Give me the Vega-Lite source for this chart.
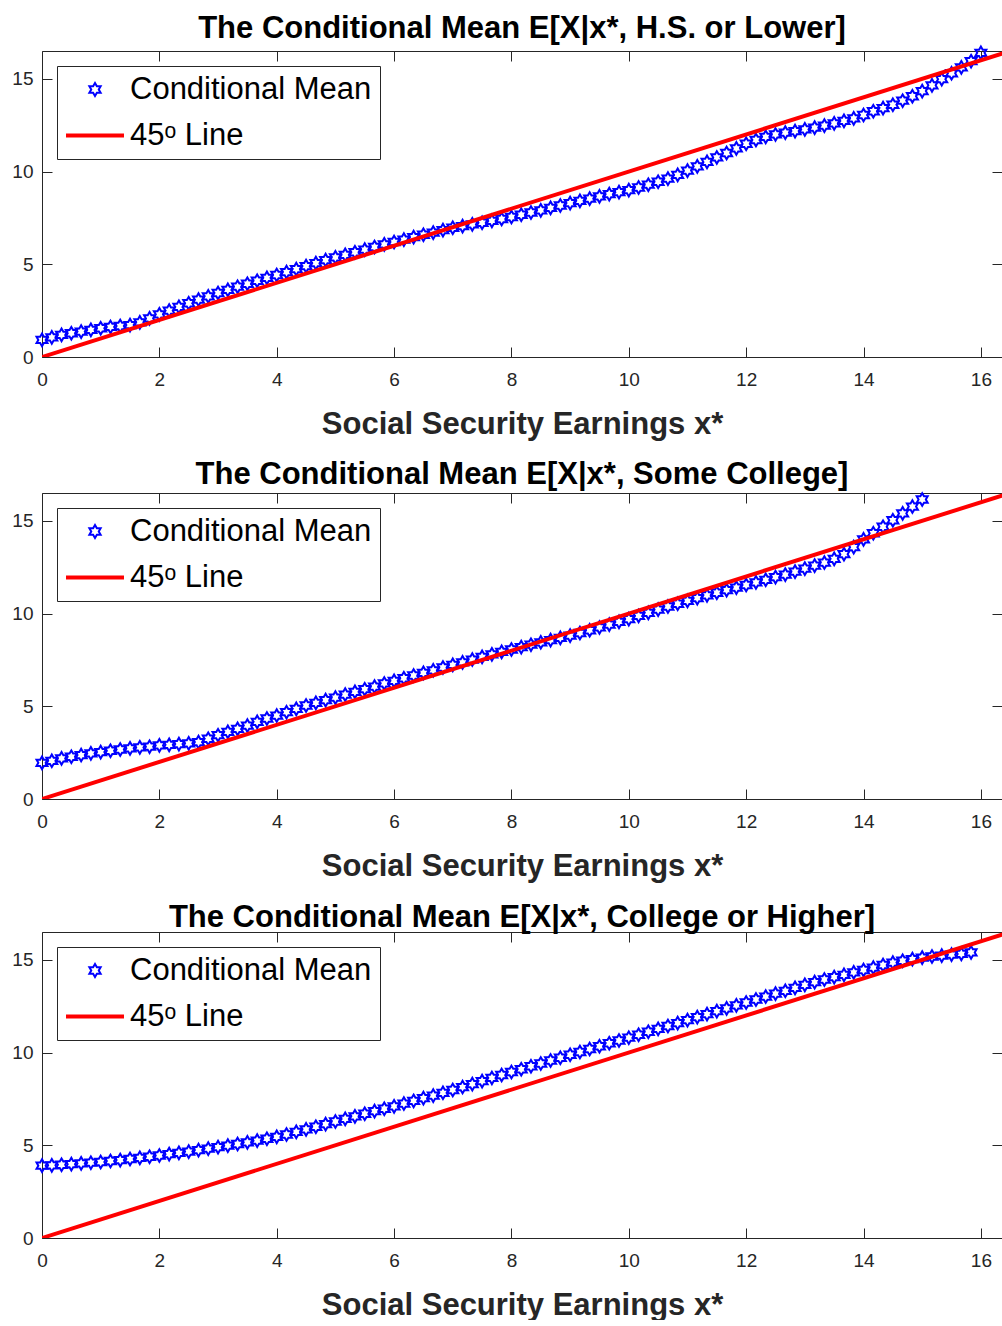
{
  "$schema": "https://vega.github.io/schema/vega-lite/v6.json",
  "background": "white",
  "padding": {"left": 11, "top": 12, "right": 0, "bottom": 0},
  "spacing": 20,
  "config": {
    "view": {"stroke": null},
    "font": "Liberation Sans",
    "title": {"fontSize": 31, "font": "Liberation Sans", "fontWeight": "bold", "color": "black", "anchor": "middle", "baseline": "alphabetic", "offset": -2},
    "axis": {"labelFont": "Liberation Sans", "labelFontSize": 19, "labelColor": "#262626", "tickColor": "#262626", "domainColor": "#262626", "tickSize": -10, "grid": false, "labelFlush": false, "labelOverlap": false, "titleFont": "Liberation Sans", "titleFontSize": 31, "titleFontWeight": "bold", "titleColor": "#262626"},
    "legend": {"orient": "top-left", "offset": 15, "padding": 8, "strokeColor": "#262626", "fillColor": "white", "labelFontSize": 31, "labelFont": "Liberation Sans", "labelColor": "black", "labelLimit": 600, "symbolSize": 169, "rowPadding": 14, "labelOffset": 19.5, "symbolOffset": 14.5, "cornerRadius": 0, "symbolFillColor": "transparent"}
  },
  "resolve": {"scale": {"color": "independent", "shape": "independent", "strokeWidth": "independent"}, "legend": {"color": "independent", "shape": "independent", "strokeWidth": "independent"}},
  "datasets": {
    "diag": [{"x": 0, "y": 0}, {"x": 16.5, "y": 16.5}],
    "hs": [
      {"x":0,"y":0.92},{"x":0.167,"y":1.06},{"x":0.333,"y":1.19},{"x":0.5,"y":1.28},{"x":0.667,"y":1.37},{"x":0.833,"y":1.46},
      {"x":1,"y":1.55},{"x":1.167,"y":1.62},{"x":1.333,"y":1.67},{"x":1.5,"y":1.72},{"x":1.667,"y":1.87},{"x":1.833,"y":2.08},
      {"x":2,"y":2.30},{"x":2.167,"y":2.50},{"x":2.333,"y":2.70},{"x":2.5,"y":2.90},{"x":2.667,"y":3.09},{"x":2.833,"y":3.27},
      {"x":3,"y":3.45},{"x":3.167,"y":3.62},{"x":3.333,"y":3.79},{"x":3.5,"y":3.95},{"x":3.667,"y":4.11},{"x":3.833,"y":4.27},
      {"x":4,"y":4.42},{"x":4.167,"y":4.58},{"x":4.333,"y":4.74},{"x":4.5,"y":4.90},{"x":4.667,"y":5.06},{"x":4.833,"y":5.22},
      {"x":5,"y":5.37},{"x":5.167,"y":5.51},{"x":5.333,"y":5.65},{"x":5.5,"y":5.79},{"x":5.667,"y":5.93},{"x":5.833,"y":6.07},
      {"x":6,"y":6.20},{"x":6.167,"y":6.33},{"x":6.333,"y":6.46},{"x":6.5,"y":6.59},{"x":6.667,"y":6.71},{"x":6.833,"y":6.84},
      {"x":7,"y":6.97},{"x":7.167,"y":7.06},{"x":7.333,"y":7.15},{"x":7.5,"y":7.24},{"x":7.667,"y":7.34},{"x":7.833,"y":7.44},
      {"x":8,"y":7.55},{"x":8.167,"y":7.67},{"x":8.333,"y":7.79},{"x":8.5,"y":7.91},{"x":8.667,"y":8.04},{"x":8.833,"y":8.17},
      {"x":9,"y":8.30},{"x":9.167,"y":8.42},{"x":9.333,"y":8.54},{"x":9.5,"y":8.66},{"x":9.667,"y":8.78},{"x":9.833,"y":8.89},
      {"x":10,"y":9.00},{"x":10.167,"y":9.14},{"x":10.333,"y":9.29},{"x":10.5,"y":9.45},{"x":10.667,"y":9.62},{"x":10.833,"y":9.82},
      {"x":11,"y":10.05},{"x":11.167,"y":10.28},{"x":11.333,"y":10.52},{"x":11.5,"y":10.76},{"x":11.667,"y":11.00},{"x":11.833,"y":11.25},
      {"x":12,"y":11.50},{"x":12.167,"y":11.70},{"x":12.333,"y":11.87},{"x":12.5,"y":12.00},{"x":12.667,"y":12.10},{"x":12.833,"y":12.18},
      {"x":13,"y":12.27},{"x":13.167,"y":12.37},{"x":13.333,"y":12.48},{"x":13.5,"y":12.60},{"x":13.667,"y":12.73},{"x":13.833,"y":12.87},
      {"x":14,"y":13.05},{"x":14.167,"y":13.25},{"x":14.333,"y":13.42},{"x":14.5,"y":13.60},{"x":14.667,"y":13.82},{"x":14.833,"y":14.06},
      {"x":15,"y":14.34},{"x":15.167,"y":14.65},{"x":15.333,"y":14.98},{"x":15.5,"y":15.30},{"x":15.667,"y":15.62},{"x":15.833,"y":15.95},
      {"x":16,"y":16.40}
    ],
    "sc": [
      {"x":0,"y":1.95},{"x":0.167,"y":2.06},{"x":0.333,"y":2.19},{"x":0.5,"y":2.28},{"x":0.667,"y":2.37},{"x":0.833,"y":2.46},
      {"x":1,"y":2.53},{"x":1.167,"y":2.60},{"x":1.333,"y":2.67},{"x":1.5,"y":2.73},{"x":1.667,"y":2.78},{"x":1.833,"y":2.82},
      {"x":2,"y":2.89},{"x":2.167,"y":2.92},{"x":2.333,"y":2.96},{"x":2.5,"y":3.00},{"x":2.667,"y":3.07},{"x":2.833,"y":3.25},
      {"x":3,"y":3.44},{"x":3.167,"y":3.62},{"x":3.333,"y":3.78},{"x":3.5,"y":3.96},{"x":3.667,"y":4.16},{"x":3.833,"y":4.34},
      {"x":4,"y":4.50},{"x":4.167,"y":4.68},{"x":4.333,"y":4.86},{"x":4.5,"y":5.04},{"x":4.667,"y":5.18},{"x":4.833,"y":5.33},
      {"x":5,"y":5.47},{"x":5.167,"y":5.63},{"x":5.333,"y":5.78},{"x":5.5,"y":5.92},{"x":5.667,"y":6.06},{"x":5.833,"y":6.23},
      {"x":6,"y":6.37},{"x":6.167,"y":6.51},{"x":6.333,"y":6.66},{"x":6.5,"y":6.80},{"x":6.667,"y":6.94},{"x":6.833,"y":7.09},
      {"x":7,"y":7.23},{"x":7.167,"y":7.37},{"x":7.333,"y":7.52},{"x":7.5,"y":7.66},{"x":7.667,"y":7.80},{"x":7.833,"y":7.93},
      {"x":8,"y":8.06},{"x":8.167,"y":8.19},{"x":8.333,"y":8.32},{"x":8.5,"y":8.45},{"x":8.667,"y":8.57},{"x":8.833,"y":8.69},
      {"x":9,"y":8.81},{"x":9.167,"y":8.95},{"x":9.333,"y":9.10},{"x":9.5,"y":9.25},{"x":9.667,"y":9.40},{"x":9.833,"y":9.55},
      {"x":10,"y":9.70},{"x":10.167,"y":9.87},{"x":10.333,"y":10.04},{"x":10.5,"y":10.21},{"x":10.667,"y":10.38},{"x":10.833,"y":10.53},
      {"x":11,"y":10.68},{"x":11.167,"y":10.83},{"x":11.333,"y":10.98},{"x":11.5,"y":11.12},{"x":11.667,"y":11.26},{"x":11.833,"y":11.40},
      {"x":12,"y":11.54},{"x":12.167,"y":11.68},{"x":12.333,"y":11.82},{"x":12.5,"y":11.96},{"x":12.667,"y":12.10},{"x":12.833,"y":12.26},
      {"x":13,"y":12.42},{"x":13.167,"y":12.58},{"x":13.333,"y":12.75},{"x":13.5,"y":12.95},{"x":13.667,"y":13.20},{"x":13.833,"y":13.58},
      {"x":14,"y":14.00},{"x":14.167,"y":14.33},{"x":14.333,"y":14.68},{"x":14.5,"y":15.03},{"x":14.667,"y":15.40},{"x":14.833,"y":15.77},
      {"x":15,"y":16.15}
    ],
    "col": [
      {"x":0,"y":3.90},{"x":0.167,"y":3.92},{"x":0.333,"y":3.95},{"x":0.5,"y":3.98},{"x":0.667,"y":4.02},{"x":0.833,"y":4.06},
      {"x":1,"y":4.10},{"x":1.167,"y":4.15},{"x":1.333,"y":4.20},{"x":1.5,"y":4.26},{"x":1.667,"y":4.32},{"x":1.833,"y":4.38},
      {"x":2,"y":4.45},{"x":2.167,"y":4.52},{"x":2.333,"y":4.59},{"x":2.5,"y":4.66},{"x":2.667,"y":4.74},{"x":2.833,"y":4.82},
      {"x":3,"y":4.90},{"x":3.167,"y":4.98},{"x":3.333,"y":5.07},{"x":3.5,"y":5.16},{"x":3.667,"y":5.25},{"x":3.833,"y":5.35},
      {"x":4,"y":5.45},{"x":4.167,"y":5.58},{"x":4.333,"y":5.72},{"x":4.5,"y":5.86},{"x":4.667,"y":6.00},{"x":4.833,"y":6.14},
      {"x":5,"y":6.28},{"x":5.167,"y":6.42},{"x":5.333,"y":6.56},{"x":5.5,"y":6.70},{"x":5.667,"y":6.84},{"x":5.833,"y":6.97},
      {"x":6,"y":7.10},{"x":6.167,"y":7.25},{"x":6.333,"y":7.39},{"x":6.5,"y":7.54},{"x":6.667,"y":7.68},{"x":6.833,"y":7.83},
      {"x":7,"y":7.98},{"x":7.167,"y":8.14},{"x":7.333,"y":8.30},{"x":7.5,"y":8.46},{"x":7.667,"y":8.63},{"x":7.833,"y":8.79},
      {"x":8,"y":8.95},{"x":8.167,"y":9.10},{"x":8.333,"y":9.26},{"x":8.5,"y":9.41},{"x":8.667,"y":9.57},{"x":8.833,"y":9.72},
      {"x":9,"y":9.88},{"x":9.167,"y":10.03},{"x":9.333,"y":10.19},{"x":9.5,"y":10.34},{"x":9.667,"y":10.50},{"x":9.833,"y":10.65},
      {"x":10,"y":10.80},{"x":10.167,"y":10.96},{"x":10.333,"y":11.12},{"x":10.5,"y":11.28},{"x":10.667,"y":11.43},{"x":10.833,"y":11.59},
      {"x":11,"y":11.75},{"x":11.167,"y":11.91},{"x":11.333,"y":12.07},{"x":11.5,"y":12.23},{"x":11.667,"y":12.38},{"x":11.833,"y":12.54},
      {"x":12,"y":12.70},{"x":12.167,"y":12.86},{"x":12.333,"y":13.02},{"x":12.5,"y":13.18},{"x":12.667,"y":13.33},{"x":12.833,"y":13.49},
      {"x":13,"y":13.65},{"x":13.167,"y":13.80},{"x":13.333,"y":13.94},{"x":13.5,"y":14.07},{"x":13.667,"y":14.19},{"x":13.833,"y":14.32},
      {"x":14,"y":14.45},{"x":14.167,"y":14.58},{"x":14.333,"y":14.72},{"x":14.5,"y":14.85},{"x":14.667,"y":14.95},{"x":14.833,"y":15.04},
      {"x":15,"y":15.12},{"x":15.167,"y":15.18},{"x":15.333,"y":15.23},{"x":15.5,"y":15.28},{"x":15.667,"y":15.32},{"x":15.833,"y":15.40}
    ]
  },
  "vconcat": [
    {
      "title": {"text": "The Conditional Mean E[X|x*, H.S. or Lower]"},
      "width": 960, "height": 306,
      "layer": [
        {
          "data": {"name": "hs"},
          "mark": {"type": "point", "filled": false, "size": 160, "opacity": 1},
          "encoding": {
            "x": {"field": "x", "type": "quantitative", "scale": {"domain": [0, 16.36], "nice": false, "zero": false}, "axis": {"orient": "bottom", "values": [0,2,4,6,8,10,12,14,16], "title": "Social Security Earnings x*", "labelPadding": 23, "titlePadding": 20}},
            "y": {"field": "y", "type": "quantitative", "scale": {"domain": [0, 16.5], "nice": false, "zero": false}, "axis": {"orient": "left", "values": [0,5,10,15], "title": null, "labelPadding": 19}},
            "color": {"datum": "Conditional Mean", "scale": {"domain": ["Conditional Mean", "45ᵒ Line"], "range": ["#0000ff", "#ff0000"]}, "legend": {"title": null}},
            "shape": {"datum": "Conditional Mean", "scale": {"domain": ["Conditional Mean", "45ᵒ Line"], "range": ["M0,-1L0.289,-0.5L0.866,-0.5L0.577,0L0.866,0.5L0.289,0.5L0,1L-0.289,0.5L-0.866,0.5L-0.577,0L-0.866,-0.5L-0.289,-0.5Z", "M-4.46,0L4.46,0"]}, "legend": {"title": null}},
            "strokeWidth": {"datum": "Conditional Mean", "scale": {"domain": ["Conditional Mean", "45ᵒ Line"], "range": [2, 4]}, "legend": {"title": null}}
          }
        },
        {
          "data": {"name": "diag"},
          "mark": {"type": "line", "clip": true},
          "encoding": {
            "x": {"field": "x", "type": "quantitative", "axis": {"orient": "top", "values": [0,2,4,6,8,10,12,14,16], "labels": false, "title": null}},
            "y": {"field": "y", "type": "quantitative", "axis": {"orient": "right", "values": [0,5,10,15], "labels": false, "title": null, "domain": false}},
            "color": {"datum": "45ᵒ Line"},
            "strokeWidth": {"datum": "45ᵒ Line"}
          }
        }
      ]
    },
    {
      "title": {"text": "The Conditional Mean  E[X|x*, Some College]"},
      "width": 960, "height": 306,
      "layer": [
        {
          "data": {"name": "sc"},
          "mark": {"type": "point", "filled": false, "size": 160, "opacity": 1},
          "encoding": {
            "x": {"field": "x", "type": "quantitative", "scale": {"domain": [0, 16.36], "nice": false, "zero": false}, "axis": {"orient": "bottom", "values": [0,2,4,6,8,10,12,14,16], "title": "Social Security Earnings x*", "labelPadding": 23, "titlePadding": 20}},
            "y": {"field": "y", "type": "quantitative", "scale": {"domain": [0, 16.5], "nice": false, "zero": false}, "axis": {"orient": "left", "values": [0,5,10,15], "title": null, "labelPadding": 19}},
            "color": {"datum": "Conditional Mean", "scale": {"domain": ["Conditional Mean", "45ᵒ Line"], "range": ["#0000ff", "#ff0000"]}, "legend": {"title": null}},
            "shape": {"datum": "Conditional Mean", "scale": {"domain": ["Conditional Mean", "45ᵒ Line"], "range": ["M0,-1L0.289,-0.5L0.866,-0.5L0.577,0L0.866,0.5L0.289,0.5L0,1L-0.289,0.5L-0.866,0.5L-0.577,0L-0.866,-0.5L-0.289,-0.5Z", "M-4.46,0L4.46,0"]}, "legend": {"title": null}},
            "strokeWidth": {"datum": "Conditional Mean", "scale": {"domain": ["Conditional Mean", "45ᵒ Line"], "range": [2, 4]}, "legend": {"title": null}}
          }
        },
        {
          "data": {"name": "diag"},
          "mark": {"type": "line", "clip": true},
          "encoding": {
            "x": {"field": "x", "type": "quantitative", "axis": {"orient": "top", "values": [0,2,4,6,8,10,12,14,16], "labels": false, "title": null}},
            "y": {"field": "y", "type": "quantitative", "axis": {"orient": "right", "values": [0,5,10,15], "labels": false, "title": null, "domain": false}},
            "color": {"datum": "45ᵒ Line"},
            "strokeWidth": {"datum": "45ᵒ Line"}
          }
        }
      ]
    },
    {
      "title": {"text": "The Conditional Mean  E[X|x*, College or Higher]"},
      "width": 960, "height": 306,
      "layer": [
        {
          "data": {"name": "col"},
          "mark": {"type": "point", "filled": false, "size": 160, "opacity": 1},
          "encoding": {
            "x": {"field": "x", "type": "quantitative", "scale": {"domain": [0, 16.36], "nice": false, "zero": false}, "axis": {"orient": "bottom", "values": [0,2,4,6,8,10,12,14,16], "title": "Social Security Earnings x*", "labelPadding": 23, "titlePadding": 20}},
            "y": {"field": "y", "type": "quantitative", "scale": {"domain": [0, 16.5], "nice": false, "zero": false}, "axis": {"orient": "left", "values": [0,5,10,15], "title": null, "labelPadding": 19}},
            "color": {"datum": "Conditional Mean", "scale": {"domain": ["Conditional Mean", "45ᵒ Line"], "range": ["#0000ff", "#ff0000"]}, "legend": {"title": null}},
            "shape": {"datum": "Conditional Mean", "scale": {"domain": ["Conditional Mean", "45ᵒ Line"], "range": ["M0,-1L0.289,-0.5L0.866,-0.5L0.577,0L0.866,0.5L0.289,0.5L0,1L-0.289,0.5L-0.866,0.5L-0.577,0L-0.866,-0.5L-0.289,-0.5Z", "M-4.46,0L4.46,0"]}, "legend": {"title": null}},
            "strokeWidth": {"datum": "Conditional Mean", "scale": {"domain": ["Conditional Mean", "45ᵒ Line"], "range": [2, 4]}, "legend": {"title": null}}
          }
        },
        {
          "data": {"name": "diag"},
          "mark": {"type": "line", "clip": true},
          "encoding": {
            "x": {"field": "x", "type": "quantitative", "axis": {"orient": "top", "values": [0,2,4,6,8,10,12,14,16], "labels": false, "title": null}},
            "y": {"field": "y", "type": "quantitative", "axis": {"orient": "right", "values": [0,5,10,15], "labels": false, "title": null, "domain": false}},
            "color": {"datum": "45ᵒ Line"},
            "strokeWidth": {"datum": "45ᵒ Line"}
          }
        }
      ]
    }
  ]
}
